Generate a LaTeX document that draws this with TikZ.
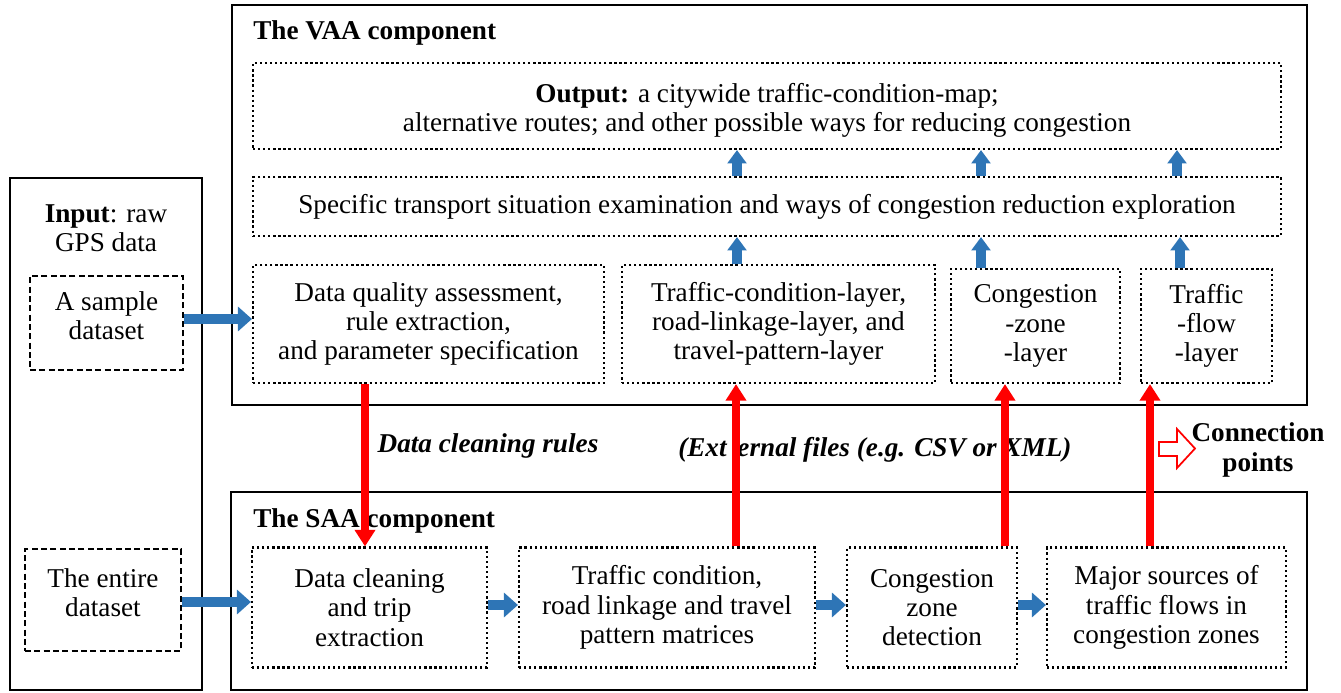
\documentclass[tikz,border=0pt]{standalone}
\usepackage{fontspec}
\setmainfont{Liberation Serif}
\usetikzlibrary{arrows.meta}
\definecolor{arrblue}{RGB}{46,117,182}
\definecolor{arrred}{RGB}{255,0,0}
\begin{document}
\begin{tikzpicture}[x=0.75pt,y=-0.75pt,
  every node/.style={font=\fontsize{20.4}{22}\selectfont, inner sep=0pt, align=center},
  sz/.style 2 args={minimum width=#1*0.75pt, minimum height=#2*0.75pt},
  solidbox/.style={draw, line width=2.2pt},
  dotbox/.style={draw, line width=1.6pt, dash pattern=on 1.7pt off 2.1pt},
  dashbox/.style={draw, line width=1.1pt, dash pattern=on 4.5pt off 2.5pt},
  bluev/.style={draw=arrblue, line width=7.5pt, -{Triangle[width=14pt,length=10pt]}},
  blueh/.style={draw=arrblue, line width=7pt, -{Triangle[width=18pt,length=10.5pt]}},
  redarr/.style={draw=arrred, line width=6.5pt, -{Triangle[width=15pt,length=12.5pt]}},
  title/.style={font=\fontsize{20.4}{22}\selectfont\bfseries, anchor=west},
  lbl/.style={font=\fontsize{20.4}{22}\selectfont\bfseries\itshape}
]
\useasboundingbox (0,0) rectangle (1341,692);

% big solid boxes
\node[solidbox, sz={192}{512}] (input) at (106,434) {};
\node[solidbox, sz={1075}{400}] (vaa) at (769.5,205) {};
\node[solidbox, sz={1076}{198}] (saa) at (769,591) {};

% input side
\node (inlbl) at (106,228) {\textbf{Input}: raw\\GPS data};
\node[dashbox, sz={153}{94}] (sample) at (106.5,323) {};
\node (sampletxt) at (106.5,316) {A sample\\dataset};
\node[dashbox, sz={156}{102}] (entire) at (103,600) {};
\node (entiretxt) at (103,593) {The entire\\dataset};

% VAA component
\node[title] (vaatitle) at (253,33) {The VAA component};
\node[dotbox, sz={1028}{86}] (out) at (767,106) {};
\node (outtxt) at (767,110.5) {\textbf{Output:} a citywide traffic-condition-map;\\alternative routes; and other possible ways for reducing congestion};
\node[dotbox, sz={1028}{59}] (spec) at (767,206.5) {Specific transport situation examination and ways of congestion reduction exploration};
\node[dotbox, sz={351}{118}] (A) at (428.5,324) {Data quality assessment,\\rule extraction,\\and parameter specification};
\node[dotbox, sz={313}{118}] (B) at (778.5,324) {Traffic-condition-layer,\\road-linkage-layer, and\\travel-pattern-layer};
\node[dotbox, sz={169}{114}] (C) at (1035.5,326) {Congestion\\-zone\\-layer};
\node[dotbox, sz={131}{114}] (D) at (1206.5,326) {Traffic\\-flow\\-layer};

% SAA component
\node[title] (saatitle) at (253,521) {The SAA component};
\node[dotbox, sz={235}{120}] (S1) at (369.5,607.5) {Data cleaning\\and trip\\extraction};
\node[dotbox, sz={296}{120}] (S2) at (667,607.5) {Traffic condition,\\road linkage and travel\\pattern matrices};
\node[dotbox, sz={170}{120}] (S3) at (932,607.5) {Congestion\\zone\\detection};
\node[dotbox, sz={239}{120}] (S4) at (1166.5,607.5) {Major sources of\\traffic flows in\\congestion zones};

% labels between
\node[lbl] (dcr) at (488,446) {Data cleaning rules};
\node[lbl, anchor=west] (ext) at (678,450) {(Ext\hspace{0.4em}ernal files (e.g. CSV or XML)};
\node[font=\fontsize{20.4}{22.5}\selectfont\bfseries] (conn) at (1258,450) {Connection\\points};
\draw[arrred, line width=1.3pt, fill=white, line join=miter]
  (1159,442) -- (1177,442) -- (1177,429) -- (1195,448.5) -- (1177,468) -- (1177,456) -- (1159,456) -- cycle;

% blue arrows
\draw[blueh] (sample.east |- 0,319) -- (A.west |- 0,319);
\draw[blueh] (entire.east |- 0,602) -- (S1.west |- 0,602);
\draw[blueh] (S1.east |- 0,605) -- (S2.west |- 0,605);
\draw[blueh] (S2.east |- 0,605) -- (S3.west |- 0,605);
\draw[blueh] (S3.east |- 0,605) -- (S4.west |- 0,605);

\draw[bluev] (B.north -| 737,0) -- (spec.south -| 737,0);
\draw[bluev] (C.north -| 981,0) -- (spec.south -| 981,0);
\draw[bluev] (D.north -| 1180,0) -- (spec.south -| 1180,0);
\draw[bluev] (spec.north -| 737,0) -- (out.south -| 737,0);
\draw[bluev] (spec.north -| 981,0) -- (out.south -| 981,0);
\draw[bluev] (spec.north -| 1177,0) -- (out.south -| 1177,0);

% red arrows
\draw[redarr] (A.south -| 365,0) -- (S1.north -| 365,0);
\draw[redarr] (S2.north -| 736,0) -- (B.south -| 736,0);
\draw[redarr] (S3.north -| 1005,0) -- (C.south -| 1005,0);
\draw[redarr] (S4.north -| 1150,0) -- (D.south -| 1150,0);
\end{tikzpicture}
\end{document}
